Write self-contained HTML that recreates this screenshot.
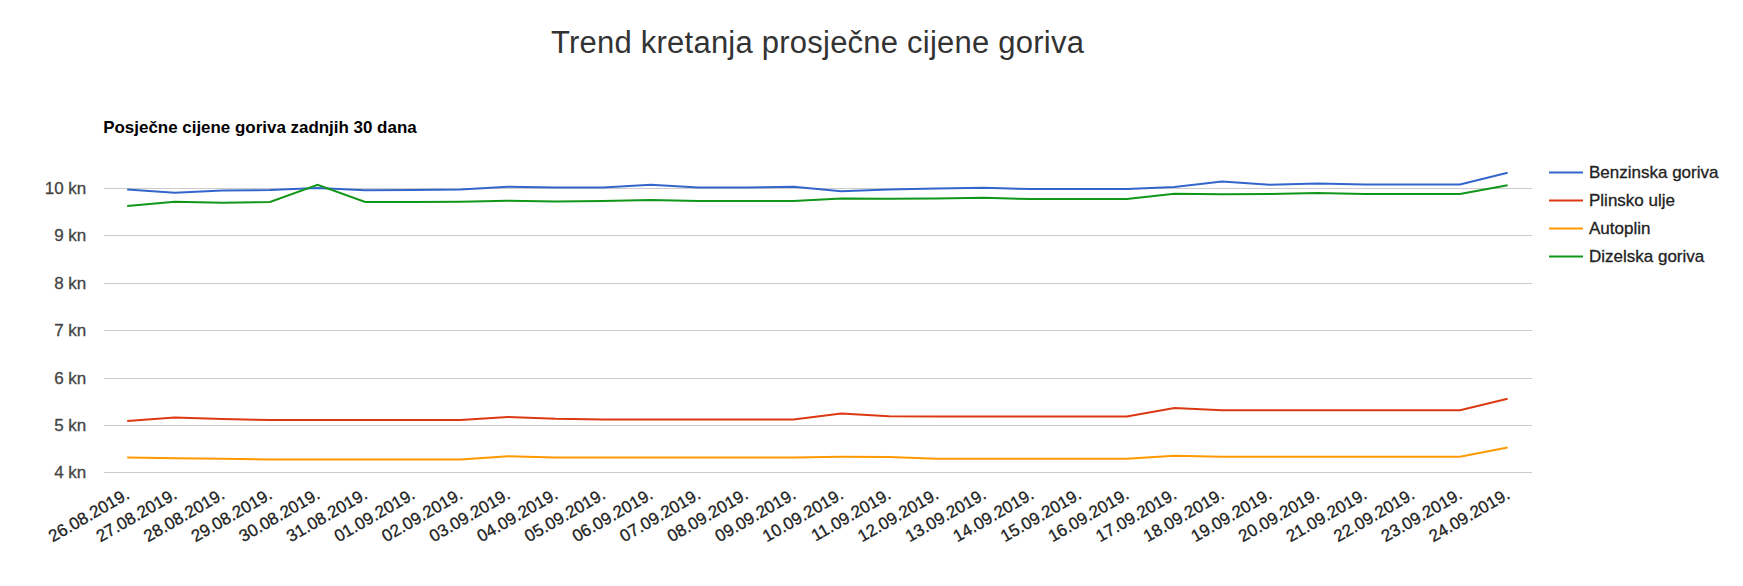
<!DOCTYPE html>
<html lang="hr"><head><meta charset="utf-8"><title>Trend kretanja prosječne cijene goriva</title>
<style>
html,body{margin:0;padding:0;background:#fff;}
body{width:1743px;height:586px;overflow:hidden;position:relative;font-family:"Liberation Sans",Arial,sans-serif;}
h2{position:absolute;left:0;top:0;margin:0;white-space:nowrap;font-weight:400;font-size:31px;line-height:31px;color:#333;letter-spacing:0.23px;}
svg{position:absolute;left:0;top:0;}
svg text{font-family:"Liberation Sans",Arial,sans-serif;}
svg g.t text{stroke:currentColor;stroke-width:0.3px;}
</style></head><body>
<h2 style="top:27px;left:551px">Trend kretanja prosječne cijene goriva</h2>
<svg width="1743" height="586" viewBox="0 0 1743 586">
<text x="103.2" y="132.8" font-size="16.95" font-weight="bold" fill="#000">Posječne cijene goriva zadnjih 30 dana</text>
<g stroke="#ccc" stroke-width="1" shape-rendering="crispEdges">
<line x1="103.5" x2="1532" y1="188.5" y2="188.5"/>
<line x1="103.5" x2="1532" y1="235.5" y2="235.5"/>
<line x1="103.5" x2="1532" y1="283.5" y2="283.5"/>
<line x1="103.5" x2="1532" y1="330.5" y2="330.5"/>
<line x1="103.5" x2="1532" y1="378.5" y2="378.5"/>
<line x1="103.5" x2="1532" y1="425.5" y2="425.5"/>
<line x1="103.5" x2="1532" y1="472.5" y2="472.5"/>
</g>
<g font-size="17" fill="#444" color="#444" class="t" text-anchor="end">
<text x="86.3" y="193.8">10 kn</text>
<text x="86.3" y="240.8">9 kn</text>
<text x="86.3" y="288.8">8 kn</text>
<text x="86.3" y="335.8">7 kn</text>
<text x="86.3" y="383.8">6 kn</text>
<text x="86.3" y="430.8">5 kn</text>
<text x="86.3" y="477.8">4 kn</text>
</g>
<g fill="none" stroke-width="2">
<path d="M127.2,189.6L174.8,192.7L222.4,190.5L270.0,190.1L317.6,187.9L365.2,190.3L412.8,190.0L460.4,189.4L508.0,186.7L555.6,187.5L603.2,187.5L650.8,184.8L698.4,187.4L746.0,187.4L793.6,186.7L841.2,191.3L888.8,189.6L936.4,188.6L984.0,187.7L1031.6,189.1L1079.2,189.1L1126.8,189.1L1174.4,186.9L1222.0,181.4L1269.6,184.8L1317.2,183.4L1364.8,184.4L1412.4,184.4L1460.0,184.4L1507.6,172.7" stroke="#3366cc"/>
<path d="M127.2,421.0L174.8,417.6L222.4,419.0L270.0,420.1L317.6,420.1L365.2,420.1L412.8,420.1L460.4,419.9L508.0,416.9L555.6,418.7L603.2,419.4L650.8,419.4L698.4,419.4L746.0,419.4L793.6,419.4L841.2,413.5L888.8,416.2L936.4,416.4L984.0,416.4L1031.6,416.4L1079.2,416.4L1126.8,416.4L1174.4,407.9L1222.0,410.2L1269.6,410.2L1317.2,410.2L1364.8,410.2L1412.4,410.2L1460.0,410.2L1507.6,398.8" stroke="#dc3912"/>
<path d="M127.2,457.5L174.8,458.2L222.4,458.7L270.0,459.4L317.6,459.4L365.2,459.4L412.8,459.4L460.4,459.4L508.0,456.2L555.6,457.5L603.2,457.5L650.8,457.5L698.4,457.5L746.0,457.5L793.6,457.5L841.2,456.8L888.8,457.0L936.4,458.7L984.0,458.7L1031.6,458.7L1079.2,458.7L1126.8,458.7L1174.4,455.7L1222.0,456.8L1269.6,456.8L1317.2,456.8L1364.8,456.8L1412.4,456.8L1460.0,456.8L1507.6,447.4" stroke="#ff9900"/>
<path d="M127.2,206.0L174.8,201.7L222.4,202.7L270.0,202.0L317.6,184.8L365.2,202.0L412.8,202.0L460.4,201.7L508.0,200.8L555.6,201.5L603.2,201.1L650.8,199.9L698.4,201.1L746.0,201.1L793.6,201.0L841.2,198.6L888.8,198.7L936.4,198.6L984.0,197.7L1031.6,199.1L1079.2,199.1L1126.8,199.1L1174.4,193.7L1222.0,194.3L1269.6,193.9L1317.2,193.1L1364.8,193.9L1412.4,193.9L1460.0,193.9L1507.6,185.3" stroke="#109618"/>
</g>
<g font-size="17" fill="#222" color="#222" class="t" text-anchor="end">
<text x="130.6" y="497.6" transform="rotate(-30 130.6 497.6)">26.08.2019.</text>
<text x="178.2" y="497.6" transform="rotate(-30 178.2 497.6)">27.08.2019.</text>
<text x="225.8" y="497.6" transform="rotate(-30 225.8 497.6)">28.08.2019.</text>
<text x="273.4" y="497.6" transform="rotate(-30 273.4 497.6)">29.08.2019.</text>
<text x="321.0" y="497.6" transform="rotate(-30 321.0 497.6)">30.08.2019.</text>
<text x="368.6" y="497.6" transform="rotate(-30 368.6 497.6)">31.08.2019.</text>
<text x="416.2" y="497.6" transform="rotate(-30 416.2 497.6)">01.09.2019.</text>
<text x="463.8" y="497.6" transform="rotate(-30 463.8 497.6)">02.09.2019.</text>
<text x="511.4" y="497.6" transform="rotate(-30 511.4 497.6)">03.09.2019.</text>
<text x="559.0" y="497.6" transform="rotate(-30 559.0 497.6)">04.09.2019.</text>
<text x="606.6" y="497.6" transform="rotate(-30 606.6 497.6)">05.09.2019.</text>
<text x="654.2" y="497.6" transform="rotate(-30 654.2 497.6)">06.09.2019.</text>
<text x="701.8" y="497.6" transform="rotate(-30 701.8 497.6)">07.09.2019.</text>
<text x="749.4" y="497.6" transform="rotate(-30 749.4 497.6)">08.09.2019.</text>
<text x="797.0" y="497.6" transform="rotate(-30 797.0 497.6)">09.09.2019.</text>
<text x="844.6" y="497.6" transform="rotate(-30 844.6 497.6)">10.09.2019.</text>
<text x="892.2" y="497.6" transform="rotate(-30 892.2 497.6)">11.09.2019.</text>
<text x="939.8" y="497.6" transform="rotate(-30 939.8 497.6)">12.09.2019.</text>
<text x="987.4" y="497.6" transform="rotate(-30 987.4 497.6)">13.09.2019.</text>
<text x="1035.0" y="497.6" transform="rotate(-30 1035.0 497.6)">14.09.2019.</text>
<text x="1082.6" y="497.6" transform="rotate(-30 1082.6 497.6)">15.09.2019.</text>
<text x="1130.2" y="497.6" transform="rotate(-30 1130.2 497.6)">16.09.2019.</text>
<text x="1177.8" y="497.6" transform="rotate(-30 1177.8 497.6)">17.09.2019.</text>
<text x="1225.4" y="497.6" transform="rotate(-30 1225.4 497.6)">18.09.2019.</text>
<text x="1273.0" y="497.6" transform="rotate(-30 1273.0 497.6)">19.09.2019.</text>
<text x="1320.6" y="497.6" transform="rotate(-30 1320.6 497.6)">20.09.2019.</text>
<text x="1368.2" y="497.6" transform="rotate(-30 1368.2 497.6)">21.09.2019.</text>
<text x="1415.8" y="497.6" transform="rotate(-30 1415.8 497.6)">22.09.2019.</text>
<text x="1463.4" y="497.6" transform="rotate(-30 1463.4 497.6)">23.09.2019.</text>
<text x="1511.0" y="497.6" transform="rotate(-30 1511.0 497.6)">24.09.2019.</text>
</g>
<g font-size="17" fill="#222" color="#222" class="t">
<line x1="1549" x2="1583" y1="172.5" y2="172.5" stroke="#3366cc" stroke-width="2"/>
<text x="1589" y="178.0">Benzinska goriva</text>
<line x1="1549" x2="1583" y1="200.5" y2="200.5" stroke="#dc3912" stroke-width="2"/>
<text x="1589" y="206.0">Plinsko ulje</text>
<line x1="1549" x2="1583" y1="228.5" y2="228.5" stroke="#ff9900" stroke-width="2"/>
<text x="1589" y="234.0">Autoplin</text>
<line x1="1549" x2="1583" y1="256.5" y2="256.5" stroke="#109618" stroke-width="2"/>
<text x="1589" y="262.0">Dizelska goriva</text>
</g>
</svg>
</body></html>
